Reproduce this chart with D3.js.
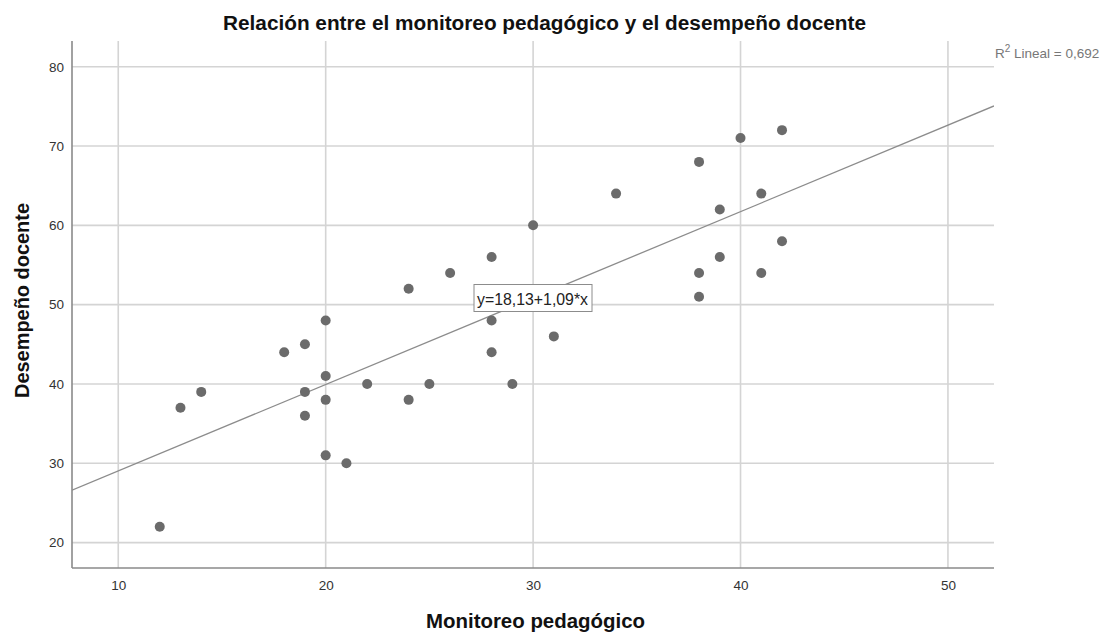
<!DOCTYPE html>
<html><head><meta charset="utf-8">
<script src="https://cdn.jsdelivr.net/npm/d3@7"></script>
<style>body{margin:0;background:#fff}svg{display:block}</style>
</head><body>
<svg id="c" width="1106" height="634"></svg>
<script>
const monitoreo = [12,13,14,18,19,19,19,20,20,20,20,21,22,24,24,25,26,28,28,28,29,30,31,34,38,38,38,39,39,40,41,41,42,42];
const desempeno = [22,37,39,44,45,39,36,48,41,38,31,30,40,52,38,40,54,56,48,44,40,60,46,64,68,54,51,62,56,71,64,54,72,58];
const xTicks = [10,20,30,40,50];
const yTicks = [20,30,40,50,60,70,80];
const intercept = 18.13, slope = 1.09;
const fitLabel = "y=18,13+1,09*x";
const r2Label = "0,692";

const FONT = "Liberation Sans, Arial, sans-serif";
const svg = d3.select("#c");
const L = 72, R = 994, T = 41, B = 568;
const x = d3.scaleLinear().domain([7.77, 52.22]).range([L, R]);
const y = d3.scaleLinear().domain([16.8, 83.24]).range([B, T]);

// grid
svg.append("g").selectAll("line").data(xTicks).join("line")
  .attr("x1", d => x(d)).attr("x2", d => x(d)).attr("y1", T).attr("y2", B)
  .attr("stroke", "#d4d4d4").attr("stroke-width", 1.6);
svg.append("g").selectAll("line").data(yTicks).join("line")
  .attr("y1", d => y(d)).attr("y2", d => y(d)).attr("x1", L).attr("x2", R)
  .attr("stroke", "#d4d4d4").attr("stroke-width", 1.6);

// axes
const xAxis = svg.append("g").attr("transform", `translate(0,${B})`)
  .call(d3.axisBottom(x).tickValues(xTicks).tickSize(0).tickPadding(12));
const yAxis = svg.append("g").attr("transform", `translate(${L},0)`)
  .call(d3.axisLeft(y).tickValues(yTicks).tickSize(0).tickPadding(8));
[xAxis, yAxis].forEach(a => {
  a.select(".domain").attr("stroke", "#8a8a8a").attr("stroke-width", 1.6);
  a.selectAll("text").attr("font-family", FONT).attr("font-size", 13.5).attr("fill", "#333");
});
yAxis.select(".domain").attr("d", `M0,${B}V${T}`);
xAxis.select(".domain").attr("d", `M${L},0H${R}`);

// regression line (clipped)
svg.append("clipPath").attr("id", "clip").append("rect").attr("x", L).attr("y", T).attr("width", R - L).attr("height", B - T);
const xd = x.domain();
svg.append("line").attr("clip-path", "url(#clip)")
  .attr("x1", x(xd[0])).attr("y1", y(intercept + slope * xd[0]))
  .attr("x2", x(xd[1])).attr("y2", y(intercept + slope * xd[1]))
  .attr("stroke", "#8c8c8c").attr("stroke-width", 1.3);

// points
svg.append("g").selectAll("circle").data(monitoreo.map((m, i) => [m, desempeno[i]])).join("circle")
  .attr("cx", d => x(d[0])).attr("cy", d => y(d[1])).attr("r", 5).attr("fill", "#6b6b6b");

// fit label box
const bx = 474, by = 284.5;
svg.append("rect").attr("x", bx).attr("y", by).attr("width", 118).attr("height", 27)
  .attr("fill", "#fff").attr("stroke", "#8c8c8c").attr("stroke-width", 1);
svg.append("text").attr("x", 477).attr("y", 305)
  .attr("textLength", 111).attr("lengthAdjust", "spacingAndGlyphs")
  .attr("font-family", FONT).attr("font-size", 16).attr("fill", "#222").text(fitLabel);

// R2 label
const rt = svg.append("text").attr("x", 995).attr("y", 58)
  .attr("font-family", FONT).attr("font-size", 13.5).attr("fill", "#777");
rt.append("tspan").text("R");
rt.append("tspan").attr("dy", -6).attr("font-size", 10).text("2");
rt.append("tspan").attr("dy", 6).text(" Lineal = " + r2Label);

// title
svg.append("text").attr("x", 223).attr("y", 30)
  .attr("textLength", 643).attr("lengthAdjust", "spacingAndGlyphs")
  .attr("font-family", FONT).attr("font-size", 19.5).attr("font-weight", "bold").attr("fill", "#111")
  .text("Relación entre el monitoreo pedagógico y el desempeño docente");
svg.append("text").attr("x", 426).attr("y", 628)
  .attr("textLength", 219).attr("lengthAdjust", "spacingAndGlyphs")
  .attr("font-family", FONT).attr("font-size", 19.5).attr("font-weight", "bold").attr("fill", "#111")
  .text("Monitoreo pedagógico");
svg.append("text").attr("transform", "translate(29,398) rotate(-90)")
  .attr("textLength", 195).attr("lengthAdjust", "spacingAndGlyphs")
  .attr("font-family", FONT).attr("font-size", 19.5).attr("font-weight", "bold").attr("fill", "#111")
  .text("Desempeño docente");
</script>
</body></html>
